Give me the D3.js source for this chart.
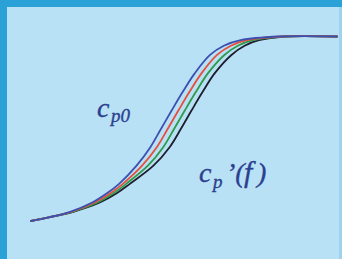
<!DOCTYPE html>
<meta charset="utf-8">
<head>
<style>
  body { margin: 0; background: #b9e1f5; }
  svg { display: block; }
  .lab { font-family: 'Liberation Serif', 'Times New Roman', serif; font-style: italic; fill: #2b3f90; stroke: #2b3f90; stroke-width: 0.35; }
</style>
</head>
<body>
<div id="chart"></div>
<script src="https://d3js.org/d3.v7.min.js"></script>
<script>
    // curve values (x in 0..10, y in 0..1)
    let levels = [0, 0.02, 0.05, 0.1, 0.15, 0.2, 0.3, 0.4, 0.5, 0.6, 0.7, 0.8, 0.9, 0.95, 0.98, 1, 1];
    let blueX  = [0, 0.58, 1.28, 2.00, 2.48, 2.87, 3.45, 3.90, 4.25, 4.60, 4.96, 5.35, 5.85, 6.30, 6.85, 8.10, 10];
    let redX   = [0, 0.58, 1.31, 2.08, 2.59, 2.99, 3.63, 4.11, 4.47, 4.82, 5.18, 5.57, 6.08, 6.53, 7.05, 8.17, 10];
    let greenX = [0, 0.58, 1.35, 2.17, 2.69, 3.10, 3.82, 4.32, 4.68, 5.03, 5.39, 5.78, 6.32, 6.76, 7.25, 8.23, 10];
    let blackX = [0, 0.58, 1.38, 2.25, 2.80, 3.22, 4.00, 4.53, 4.90, 5.25, 5.61, 6.00, 6.55, 6.98, 7.45, 8.30, 10];

    let seriesNames = ['black', 'green', 'red', 'blue'];
    let seriesX = {blue: blueX, red: redX, green: greenX, black: blackX};
    let seriesColor = d3.scaleOrdinal()
        .domain(seriesNames)
        .range(['#1e1e2e', '#2f9a4c', '#e5503e', '#3b50b2']);

    let width = 342, height = 259;

    let svg = d3.select('#chart').append('svg')
        .attr('width', width)
        .attr('height', height);

    // frame
    svg.append('rect').attr('width', width).attr('height', height).attr('fill', '#2ba2d7');
    svg.append('rect').attr('x', 7).attr('y', 7)
        .attr('width', width - 7).attr('height', height - 7)
        .attr('fill', '#9fd2ee');
    svg.append('rect').attr('x', 7).attr('y', 7)
        .attr('width', width - 10).attr('height', height - 7)
        .attr('fill', '#b9e1f5');

    let x = d3.scaleLinear().domain([0, 10]).range([31, 337]);
    let y = d3.scaleLinear().domain([0, 1]).range([221, 36.5]);

    let line = d3.line()
        .x(d => x(d.x))
        .y(d => y(d.y))
        .curve(d3.curveCatmullRom.alpha(0.5));

    seriesNames.forEach(name => {
        let pts = seriesX[name].map((v, i) => ({x: v, y: levels[i]}));
        pts = pts.filter((p, i) => i == 0 || p.x > pts[i - 1].x);
        svg.append('path')
            .datum(pts)
            .attr('fill', 'none')
            .attr('stroke', seriesColor(name))
            .attr('stroke-width', 1.8)
            .attr('stroke-linecap', 'round')
            .attr('d', line);
    });

    // labels
    let lab1 = svg.append('text').attr('class', 'lab').attr('font-size', 28);
    lab1.append('tspan').attr('x', 97).attr('y', 117).text('c');
    lab1.append('tspan').attr('x', 111).attr('y', 122).attr('font-size', 19).text('p0');

    let lab2 = svg.append('text').attr('class', 'lab').attr('font-size', 28);
    lab2.append('tspan').attr('x', 199).attr('y', 182).text('c');
    lab2.append('tspan').attr('x', 213).attr('y', 188).attr('font-size', 19).text('p');
    lab2.append('tspan').attr('x', 226).attr('y', 182).text('\u2019(');
    lab2.append('tspan').attr('x', 244).attr('y', 182).attr('font-size', 30).text('f');
    lab2.append('tspan').attr('x', 257).attr('y', 182).text(')');
</script>
</body>
